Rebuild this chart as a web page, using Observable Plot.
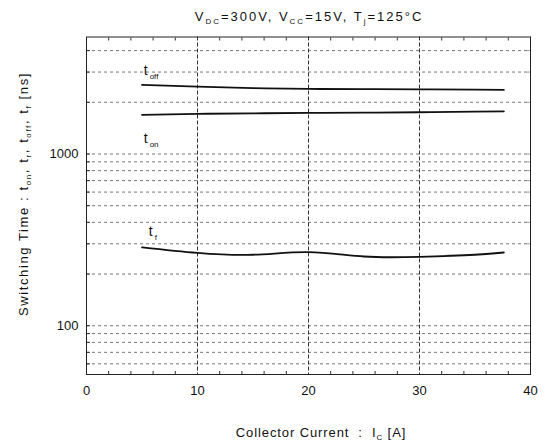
<!DOCTYPE html>
<html>
<head>
<meta charset="utf-8">
<script src="https://cdn.jsdelivr.net/npm/d3@7"></script>
<script src="https://cdn.jsdelivr.net/npm/@observablehq/plot@0.6"></script>
<style>
  html, body { margin: 0; padding: 0; background: #fff; }
  svg text { font-family: "Liberation Sans", Arial, sans-serif; }
</style>
</head>
<body>
<div id="chart"></div>
<script>
// ---- data ----
const currents = [5, 10, 15, 20, 25, 30, 35, 37.6];
const tOff = [2525, 2466, 2418, 2393, 2385, 2380, 2370, 2362];
const tOn  = [1690, 1712, 1725, 1734, 1742, 1750, 1765, 1773];
const tF   = [286, 265.5, 259, 268, 253, 252, 259, 267];

const xGrid = [10, 20, 30];
const xTicks = [0, 10, 20, 30, 40];
const xMinorTicks = [2, 4, 6, 8, 12, 14, 16, 18, 22, 24, 26, 28, 32, 34, 36, 38];
const yGrid = [60, 70, 80, 90, 100, 200, 300, 400, 500, 600, 700, 800, 900, 1000, 2000, 3000, 4000];
const yTickLabels = [100, 1000];

const curveLabels = [
  {x: 5.15, y: 2900, sub: "off"},
  {x: 5.15, y: 1165, sub: "on"},
  {x: 5.6, y: 335, sub: "f"}
];

// ---- build series table ----
const series = [];
currents.forEach((c, i) => {
  series.push({name: "toff", x: c, y: tOff[i]});
  series.push({name: "ton", x: c, y: tOn[i]});
  series.push({name: "tf", x: c, y: tF[i]});
});

const W = 546, H = 441;
const fontSize = 13;
const noText = () => "";

const chart = Plot.plot({
  width: W,
  height: H,
  marginLeft: 86,
  marginRight: 16,
  marginTop: 36.5,
  marginBottom: 67,
  style: {fontFamily: "Liberation Sans, Arial, sans-serif", fontSize: "13px", background: "#fff", color: "#111"},
  x: {domain: [0, 40]},
  y: {type: "log", domain: [52, 4800]},
  marks: [
    Plot.ruleY(yGrid, {stroke: "#777", strokeWidth: 1, strokeDasharray: "3,3"}),
    Plot.ruleX(xGrid, {stroke: "#333", strokeWidth: 1, strokeDasharray: "4,2"}),
    // inward minor ticks
    Plot.axisX({anchor: "bottom", ticks: xMinorTicks, tickSize: -3, tickFormat: noText, label: null, stroke: "#333"}),
    Plot.axisX({anchor: "top", ticks: xMinorTicks, tickSize: -3, tickFormat: noText, label: null, stroke: "#333"}),
    Plot.axisY({anchor: "left", ticks: yGrid, tickSize: -4, tickFormat: noText, label: null, stroke: "#333"}),
    Plot.axisY({anchor: "right", ticks: yGrid, tickSize: -4, tickFormat: noText, label: null, stroke: "#999"}),
    // tick labels
    Plot.axisX({anchor: "bottom", ticks: xTicks, tickSize: 0, tickPadding: 11, label: null, fontSize: 13, tickFormat: d => String(d)}),
    Plot.axisY({anchor: "left", ticks: yTickLabels, tickSize: 0, tickPadding: 8, label: null, fontSize: 13, tickFormat: d => String(d)}),
    Plot.frame({stroke: "#222", strokeWidth: 1}),
    Plot.line(series, {x: "x", y: "y", z: "name", stroke: "#111", strokeWidth: 1.8, curve: "natural"}),
    Plot.text(curveLabels, {x: "x", y: "y", text: d => "t", textAnchor: "start", lineAnchor: "bottom", fontSize: 14, fill: "#111"}),
    Plot.text(curveLabels, {x: "x", y: "y", text: "sub", textAnchor: "start", lineAnchor: "bottom", fontSize: 8, dx: 6, dy: 4, fill: "#111"})
  ]
});

document.getElementById("chart").appendChild(chart);

// ---- rich text labels (title, axis labels with subscripts) ----
const svg = d3.select(chart);
function richText(parts, attrs) {
  const t = svg.append("text")
    .attr("fill", "#111")
    .attr("font-size", fontSize)
    .attr("letter-spacing", attrs.ls ?? 1.2)
    .attr("text-anchor", "middle");
  if (attrs.transform) t.attr("transform", attrs.transform);
  else t.attr("x", attrs.x).attr("y", attrs.y);
  let shifted = false;
  parts.forEach(([s, sub]) => {
    const ts = t.append("tspan").text(s);
    if (sub && !shifted) { ts.attr("dy", 3).attr("font-size", 8); shifted = true; }
    else if (sub) { ts.attr("font-size", 8); }
    else if (shifted) { ts.attr("dy", -3); shifted = false; }
  });
  return t;
}

const titleParts = [["V"], ["DC", 1], ["=300V, V"], ["CC", 1], ["=15V, T"], ["j", 1], ["=125°C"]];
richText(titleParts, {x: 309, y: 21, ls: 2});

const xLabelParts = [["Collector Current  :  I"], ["C", 1], [" [A]"]];
richText(xLabelParts, {x: 321, y: 437, ls: 0.9});

const yLabelParts = [["Switching Time : t"], ["on", 1], [", t"], ["r", 1], [", t"], ["off", 1], [", t"], ["f", 1], [" [ns]"]];
richText(yLabelParts, {transform: "translate(28,194) rotate(-90)", ls: 1.6});
</script>
</body>
</html>
